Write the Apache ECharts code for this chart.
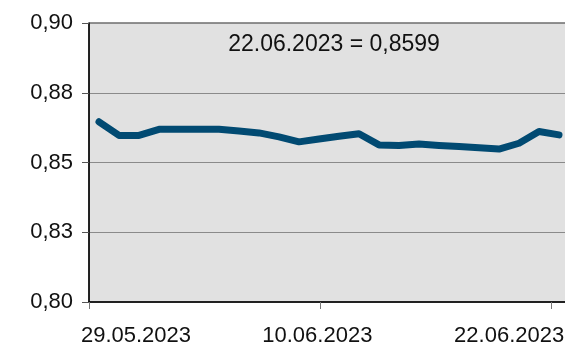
<!DOCTYPE html>
<html>
<head>
<meta charset="utf-8">
<script src="https://cdn.jsdelivr.net/npm/echarts@6/dist/echarts.min.js"></script>
<style>
html,body{margin:0;padding:0;background:#fff;}
#chart{width:565px;height:348px;}
</style>
</head>
<body>
<div id="chart"></div>
<script>
// ---- data ----
var categories = ['30.05.2023','31.05.2023','01.06.2023','02.06.2023','03.06.2023','04.06.2023',
  '05.06.2023','06.06.2023','07.06.2023','08.06.2023','09.06.2023','10.06.2023',
  '11.06.2023','12.06.2023','13.06.2023','14.06.2023','15.06.2023','16.06.2023',
  '17.06.2023','18.06.2023','19.06.2023','20.06.2023','21.06.2023','22.06.2023'];
var values = [0.8646,0.8597,0.8597,0.8619,0.8619,0.8619,
  0.8619,0.8613,0.8606,0.8592,0.8574,0.8584,
  0.8594,0.8603,0.8563,0.8561,0.8566,0.8561,
  0.8557,0.8553,0.8548,0.8569,0.8611,0.8599];
var xTickLabels = ['29.05.2023','10.06.2023','22.06.2023'];
var xTickDays = [0, 12, 24];
var yTickLabels = ['0,80','0,83','0,85','0,88','0,90'];
var titleText = '22.06.2023 = 0,8599';

var FONT = "'Liberation Sans', Arial, sans-serif";

var chart = echarts.init(document.getElementById('chart'), null, {renderer: 'canvas'});
chart.setOption({
  animation: false,
  backgroundColor: '#ffffff',
  title: {
    text: titleText,
    left: 329,
    top: 28,
    textAlign: 'center',
    textStyle: {fontFamily: FONT, fontSize: 23, fontWeight: 'normal', color: '#111'}
  },
  grid: {
    left: 89, right: -4, top: 23, bottom: 46,
    show: true,
    backgroundColor: '#e1e1e1',
    borderColor: '#222',
    borderWidth: 1,
    containLabel: false,
    outerBoundsMode: 'none'
  },
  xAxis: [
    {
      type: 'category',
      data: categories,
      boundaryGap: true,
      axisLine: {show: true, lineStyle: {color: '#000', width: 1.5}},
      axisTick: {show: false},
      axisLabel: {show: false},
      splitLine: {show: false}
    },
    {
      type: 'value',
      position: 'bottom',
      min: 0,
      max: 24.9,
      axisLine: {show: false},
      splitLine: {show: false},
      axisTick: {show: true, length: 7, inside: false, customValues: xTickDays, lineStyle: {color: '#777'}},
      axisLabel: {
        show: true,
        customValues: xTickDays,
        hideOverlap: false,
        margin: 23,
        fontFamily: FONT,
        fontSize: 22,
        color: '#111',
        formatter: function (v) {
          var i = xTickDays.indexOf(v);
          var t = xTickLabels[i];
          if (i === 0) return '{first|' + t + '}';
          if (i === xTickLabels.length - 1) return '{last|' + t + '}';
          return '{mid|' + t + '}';
        },
        rich: {
          first: {fontFamily: FONT, fontSize: 22, color: '#111', padding: [0, 0, 0, 94]},
          mid: {fontFamily: FONT, fontSize: 22, color: '#111', padding: [0, 6, 0, 0]},
          last: {fontFamily: FONT, fontSize: 22, color: '#111', padding: [0, 85, 0, 0]}
        }
      }
    }
  ],
  yAxis: {
    type: 'value',
    min: 0.8,
    max: 0.9,
    interval: 0.025,
    axisLine: {show: true, lineStyle: {color: '#000', width: 1.5}},
    axisTick: {show: true, length: 7, inside: false, lineStyle: {color: '#555'}},
    axisLabel: {
      margin: 16,
      fontFamily: FONT,
      fontSize: 22,
      color: '#111',
      formatter: function (v) {
        return yTickLabels[Math.round((v - 0.8) / 0.025)];
      }
    },
    splitLine: {show: true, lineStyle: {color: '#8a8a8a', width: 1}}
  },
  series: [{
    type: 'line',
    xAxisIndex: 0,
    data: values,
    showSymbol: false,
    symbol: 'none',
    lineStyle: {color: '#014a72', width: 7, cap: 'round', join: 'round'},
    smooth: false
  }]
});
</script>
</body>
</html>
